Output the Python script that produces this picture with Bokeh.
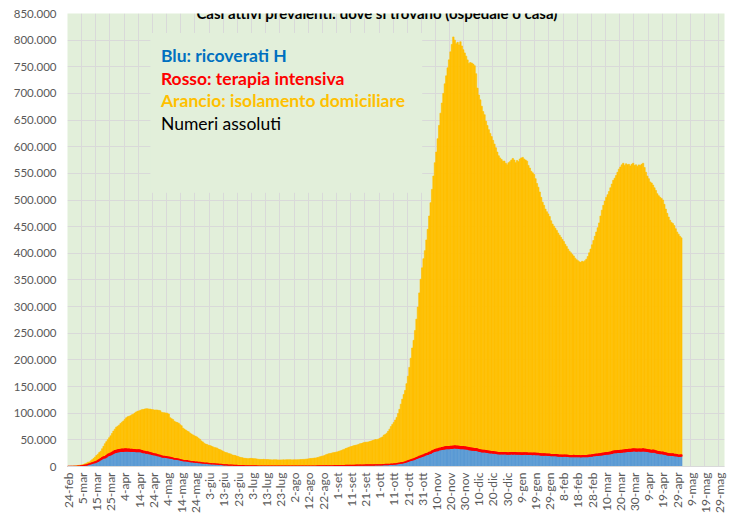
import math
from bokeh.plotting import figure
from bokeh.models import Range1d, FixedTicker, ColumnDataSource, Label, BoxAnnotation
from bokeh.transform import stack
from bokeh.embed import file_html
from bokeh.resources import INLINE

titolo = "Casi attivi prevalenti: dove si trovano (ospedale o casa)"

# giorni consecutivi dal 24-feb-2020 al 2-mag-2021
ricoverati = [
    54, 99, 114, 128, 248, 345,
    401, 639, 742, 1034, 1346, 1790, 2394, 2651, 3557, 4316, 5038, 5838, 6650, 7426, 8372, 9663, 11025, 12894, 14363, 15757, 16020, 17708, 19846, 20692, 21937, 23112, 24753, 26029, 26676, 27386, 27795,
    28192, 28403, 28540, 29010, 28949, 28976, 28718, 28485, 28399, 28242, 28144, 27847, 28023, 28011, 27643, 26893, 26029, 25786, 25033, 24906, 24134, 23805, 22871, 22068, 21533, 21372, 20353, 19723, 19210, 18149,
    17569, 17357, 17242, 16823, 16270, 15769, 15174, 14636, 13834, 13618, 13539, 12865, 12172, 11453, 10792, 10400, 10311, 10207, 9624, 8957, 8695, 8613, 8185, 7917, 7729, 7379, 7094, 6680, 6387, 6099, 5916,
    5742, 5322, 5301, 5002, 4864, 4729, 4581, 4320, 4078, 3893, 3747, 3301, 3092, 2957, 2868, 2652, 2474, 2383, 2314, 2237, 2154, 1948, 1762, 1655, 1520, 1500, 1385, 1360, 1273, 1074,
    1047, 1002, 948, 939, 934, 928, 907, 876, 851, 833, 828, 826, 815, 774, 762, 766, 747, 722, 707, 703, 686, 716, 728, 713, 711, 713, 715, 735, 728, 748, 746,
    752, 752, 756, 779, 781, 793, 823, 800, 841, 843, 842, 852, 867, 856, 879, 888, 904, 957, 995, 1014, 1045, 1059, 1089, 1118, 1178, 1227, 1259, 1310, 1334, 1380, 1380,
    1517, 1517, 1566, 1657, 1678, 1678, 1836, 1942, 1953, 2019, 2027, 2061, 2145, 2222, 2380, 2394, 2380, 2414, 2483, 2527, 2658, 2693, 2746, 2755, 2695, 2655, 2735, 2852, 2905, 2953,
    3029, 3018, 3211, 3413, 3475, 3487, 3625, 3782, 3925, 4086, 4336, 4519, 5076, 5470, 5796, 6178, 6484, 7131, 7676, 8454, 9694, 10549, 11287, 12006, 12997, 13955, 14981, 15964, 16994, 17966, 18902,
    19840, 21114, 22116, 22822, 23997, 24796, 26440, 27636, 28633, 29444, 29873, 30914, 31398, 32047, 32536, 33074, 33504, 33610, 33684, 33848, 34063, 34577, 34697, 34577, 34313, 33917, 33610, 33496, 33479, 33230,
    32811, 32454, 31772, 31200, 30894, 30484, 30081, 30158, 29653, 28727, 28201, 27611, 27342, 27345, 27065, 26496, 25954, 25634, 25427, 25202, 24995, 24508, 24037, 23662, 23424, 23463, 23522, 23662, 23712, 23151, 23151,
    23291, 23468, 23395, 23566, 23395, 23266, 23110, 23106, 22934, 22855, 23061, 23113, 22910, 22713, 22699, 22474, 22469, 22699, 22469, 22313, 22116, 21865, 21513, 21325, 21329, 21355, 21161, 20854, 20778, 20303, 20157,
    20308, 20198, 19950, 19624, 19390, 19236, 19121, 19391, 19348, 19106, 18909, 18607, 18336, 18360, 18615, 18501, 18349, 18257, 18295, 18077, 18264, 18463, 18292, 18446, 18676, 18942, 19287, 19570,
    20157, 20374, 20616, 20868, 21114, 21392, 21831, 22393, 22692, 23051, 23247, 23656, 24049, 24700, 25566, 25917, 26098, 26370, 26504, 26686, 26824, 27260, 27525, 27777, 28134, 28232, 28432, 28756, 29163, 29231, 28949,
    29001, 29117, 28979, 29032, 29337, 28965, 28704, 28146, 27679, 27243, 26952, 27107, 26701, 25815, 25236, 24707, 24193, 23963, 23804, 23151, 22474, 21812, 21279, 21136, 20818, 20975, 20312, 20102, 19661, 19077,
    18925, 19214,
]

terapia_intensiva = [
    26, 23, 35, 36, 56, 64,
    105, 140, 166, 229, 295, 351, 462, 567, 650, 733, 877, 1028, 1153, 1328, 1518, 1672, 1851, 2060, 2257, 2498, 2655, 2857, 3009, 3204, 3396, 3489, 3612, 3732, 3856, 3906, 3981,
    4023, 4035, 4053, 3994, 3977, 3898, 3792, 3693, 3605, 3497, 3381, 3343, 3260, 3186, 3079, 2936, 2812, 2733, 2635, 2573, 2471, 2384, 2267, 2173, 2102, 2009, 1956, 1863, 1795, 1694,
    1578, 1539, 1501, 1479, 1427, 1333, 1311, 1168, 1034, 1027, 999, 952, 893, 855, 808, 775, 762, 749, 716, 676, 640, 595, 572, 553, 541, 521, 505, 489, 475, 450, 435,
    424, 408, 353, 338, 316, 293, 287, 283, 263, 249, 236, 220, 209, 207, 209, 207, 168, 161, 152, 148, 149, 127, 115, 107, 103, 95, 77, 72, 71, 87,
    82, 79, 72, 71, 71, 69, 67, 67, 65, 65, 64, 62, 60, 59, 58, 58, 54, 49, 48, 49, 48, 47, 49, 48, 41, 41, 40, 38, 39, 41, 42,
    41, 41, 42, 42, 40, 40, 43, 45, 42, 42, 49, 55, 56, 58, 58, 58, 58, 62, 63, 66, 68, 69, 69, 64, 65, 69, 74, 79, 86, 94, 109,
    107, 120, 121, 133, 142, 150, 164, 164, 174, 182, 187, 197, 201, 207, 208, 215, 220, 239, 236, 244, 251, 239, 243, 246, 254, 262, 271, 280, 291, 294,
    297, 303, 319, 323, 337, 358, 387, 390, 420, 452, 514, 539, 586, 638, 705, 750, 797, 870, 926, 992, 1049, 1128, 1208, 1284, 1411, 1536, 1651, 1746, 1843, 1939, 2022,
    2115, 2225, 2292, 2391, 2515, 2634, 2749, 2849, 2971, 3081, 3170, 3230, 3306, 3422, 3492, 3612, 3670, 3712, 3748, 3758, 3801, 3810, 3816, 3846, 3848, 3816, 3782, 3753, 3762, 3744,
    3663, 3616, 3597, 3567, 3517, 3454, 3345, 3320, 3265, 3199, 3158, 3095, 3045, 3003, 2983, 2855, 2819, 2784, 2748, 2705, 2687, 2624, 2582, 2579, 2589, 2580, 2565, 2549, 2565, 2555, 2555,
    2569, 2583, 2579, 2579, 2587, 2569, 2587, 2587, 2579, 2636, 2643, 2639, 2587, 2561, 2557, 2522, 2487, 2475, 2461, 2423, 2418, 2380, 2390, 2391, 2372, 2331, 2338, 2315, 2270, 2242, 2214,
    2252, 2143, 2146, 2126, 2117, 2083, 2079, 2111, 2098, 2087, 2074, 2043, 2030, 2066, 2074, 2059, 2061, 2062, 2087, 2071, 2094, 2146, 2148, 2168, 2194, 2216, 2231, 2289,
    2351, 2411, 2475, 2571, 2605, 2700, 2756, 2827, 2859, 2914, 2971, 3081, 3157, 3256, 3317, 3364, 3384, 3448, 3470, 3490, 3567, 3625, 3679, 3707, 3716, 3723, 3710, 3716, 3733, 3737, 3681,
    3721, 3734, 3730, 3743, 3737, 3743, 3683, 3663, 3589, 3588, 3526, 3526, 3425, 3366, 3340, 3310, 3244, 3151, 3087, 3010, 2979, 2914, 2853, 2748, 2745, 2744, 2693, 2628, 2583, 2524,
    2490, 2423,
]

isolamento_domiciliare = [
    141, 189, 236, 424, 517, 640,
    1071, 1056, 1355, 1443, 1655, 1775, 2205, 3169, 3778, 3465, 4675, 5973, 7152, 8996, 10713, 11738, 13186, 13756, 16570, 19605, 24006, 26073, 27563, 30134, 32188, 35412, 38049, 40304, 43348, 44236, 45859,
    48357, 50611, 52795, 55270, 58320, 60313, 61557, 63084, 64873, 66534, 68744, 71063, 72333, 73094, 74696, 76778, 78121, 79252, 80589, 80758, 81104, 81510, 81710, 82286, 82212, 82722, 83504, 83619, 83652, 81708,
    81796, 81808, 81436, 81678, 80770, 74426, 73139, 72157, 69974, 68679, 67950, 67449, 65392, 64132, 60470, 59012, 57278, 55597, 54789, 53119, 51625, 50114, 48995, 48124, 47030, 45042, 43367, 40817, 39313, 37142, 35724,
    35201, 34163, 33643, 33089, 31796, 30855, 30394, 30127, 28531, 27568, 26654, 25701, 24184, 23110, 22832, 21710, 21283, 20557, 19077, 18587, 18334, 17498, 16778, 15876, 15058, 14901, 14101, 13823, 13716, 13460,
    13755, 14174, 14040, 13632, 13616, 13245, 12621, 12360, 12263, 12259, 12536, 12031, 12067, 12232, 11761, 11670, 11603, 11685, 11810, 11688, 11634, 11485, 11524, 11643, 11704, 11668, 11810, 11808, 11849, 11918, 11634,
    11663, 11681, 11684, 11795, 11825, 12091, 12236, 12418, 12485, 12906, 13190, 13499, 13944, 14175, 14423, 14957, 15052, 15660, 16347, 17358, 18082, 18586, 19595, 20750, 21792, 22524, 22872, 23539, 24332, 24604, 25265,
    25800, 26700, 27500, 28300, 29400, 30300, 31800, 32500, 33600, 34600, 35300, 36200, 36900, 37300, 37900, 38800, 39900, 40500, 41400, 42300, 42600, 42600, 43100, 43800, 44800, 45700, 46600, 47500, 47100, 48100,
    49300, 50700, 52000, 55200, 56300, 58700, 61900, 65900, 70500, 74500, 77900, 82100, 86500, 93200, 100800, 110000, 119000, 127200, 134100, 146000, 158600, 174300, 190700, 209000, 222300, 239600, 259800, 281500, 306900, 331500, 351800,
    368000, 381700, 400600, 419800, 443500, 467600, 490800, 514500, 538400, 557500, 582000, 605900, 628300, 646500, 664000, 681300, 695800, 710700, 725600, 740400, 754100, 767600, 761500, 754600, 757800, 753300, 759600, 751800, 744800, 739000,
    733500, 726900, 720600, 723200, 722600, 721100, 718600, 703500, 677100, 665100, 656600, 645300, 635600, 629700, 618000, 610600, 603200, 596600, 590800, 584100, 577300, 570900, 563400, 556800, 553000, 550000, 546900, 546800, 542700, 540300, 544300,
    546100, 548900, 552000, 548900, 544000, 548200, 546300, 551300, 553500, 554500, 551300, 549200, 547500, 539700, 534700, 529000, 526000, 522800, 515100, 506300, 499500, 490800, 481100, 472300, 466300, 459300, 454500, 450800, 446000, 438500, 432600,
    428400, 424700, 420900, 416300, 412500, 408700, 404800, 400500, 395600, 391800, 387000, 383400, 380600, 377600, 374300, 370400, 367600, 365700, 363600, 362900, 364600, 363400, 365600, 368400, 373100, 379800, 386500, 394100,
    401500, 409200, 416900, 424600, 433300, 445900, 456400, 464800, 472400, 479000, 483800, 489300, 495800, 502000, 508100, 511700, 516500, 522200, 528000, 531800, 535600, 538100, 533800, 536500, 534200, 535000, 531900, 534500, 536100, 532000, 533400,
    530300, 533100, 532300, 534200, 535900, 528300, 519600, 513200, 508700, 503200, 501500, 497400, 492900, 488800, 483400, 480000, 477600, 475900, 473100, 465800, 457500, 450300, 443900, 438100, 434400, 432300, 429000, 423300, 417800, 414400,
    410600, 407400,
]

etichette_x = [
    "24-feb", "5-mar", "15-mar", "25-mar", "4-apr", "14-apr", "24-apr", "4-mag", "14-mag", "24-mag",
    "3-giu", "13-giu", "23-giu", "3-lug", "13-lug", "23-lug", "2-ago", "12-ago", "22-ago", "1-set",
    "11-set", "21-set", "1-ott", "11-ott", "21-ott", "31-ott", "10-nov", "20-nov", "30-nov", "10-dic",
    "20-dic", "30-dic", "9-gen", "19-gen", "29-gen", "8-feb", "18-feb", "28-feb", "10-mar", "20-mar",
    "30-mar", "9-apr", "19-apr", "29-apr", "9-mag", "19-mag", "29-mag",
]
passo_etichette = 10
n_categorie = 464
y_ticks = list(range(0, 850001, 50000))

legenda = [
    ("Blu: ricoverati H", "#0070C0", "bold"),
    ("Rosso: terapia intensiva", "#FF0000", "bold"),
    ("Arancio: isolamento domiciliare", "#FFC000", "bold"),
    ("Numeri assoluti", "#000000", "normal"),
]

BLU = "#5B9BD5"
ROSSO = "#FF0000"
ARANCIO = "#FFC000"
SFONDO = "#E2EFDA"
GRIGLIA = "#D9D9D9"
TESTO = "#595959"
FONT = "Lato"

n = min(len(ricoverati), len(terapia_intensiva), len(isolamento_domiciliare))
src = ColumnDataSource(dict(
    x=list(range(n)),
    ric=ricoverati[:n],
    ti=terapia_intensiva[:n],
    iso=isolamento_domiciliare[:n],
))

p = figure(
    width=739, height=517,
    output_backend="svg", toolbar_location=None,
    x_range=Range1d(-0.5, n_categorie - 0.5),
    y_range=Range1d(0, 850000),
    min_border_left=67, min_border_right=15, min_border_top=13, min_border_bottom=51,
    background_fill_color=SFONDO, border_fill_color="white",
    outline_line_color=None,
)

# bars
p.vbar(x="x", width=1, bottom=0, top="ric", source=src,
       fill_color=BLU, line_color=BLU, line_width=0.6)
p.vbar(x="x", width=1, bottom=stack("ric", "ti"), top=stack("ric", "ti", "iso"), source=src,
       fill_color=ARANCIO, line_color=ARANCIO, line_width=0.6)
p.vbar(x="x", width=1, bottom=stack("ric"), top=stack("ric", "ti"), source=src,
       fill_color=ROSSO, line_color=ROSSO, line_width=1.2)

# axes
tick_pos = [i * passo_etichette for i in range(len(etichette_x))]
p.xaxis.ticker = FixedTicker(ticks=tick_pos)
p.xaxis.major_label_overrides = {t: lab for t, lab in zip(tick_pos, etichette_x)}
p.xaxis.major_label_orientation = math.pi / 2
p.xaxis.major_tick_line_color = None
p.xaxis.minor_tick_line_color = None
p.xaxis.major_tick_out = 0
p.xaxis.major_tick_in = 0
p.xaxis.axis_line_color = GRIGLIA
p.xaxis.major_label_text_color = TESTO
p.xaxis.major_label_text_font = FONT
p.xaxis.major_label_text_font_size = "12px"
p.xaxis.major_label_standoff = 6

p.yaxis.ticker = FixedTicker(ticks=y_ticks)
p.yaxis.major_label_overrides = {v: f"{v:,}".replace(",", ".") for v in y_ticks}
p.yaxis.axis_line_color = None
p.yaxis.major_tick_line_color = None
p.yaxis.minor_tick_line_color = None
p.yaxis.major_tick_out = 0
p.yaxis.major_tick_in = 0
p.yaxis.major_label_text_color = TESTO
p.yaxis.major_label_text_font = FONT
p.yaxis.major_label_text_font_size = "11.5px"
p.yaxis.major_label_standoff = 11

p.xgrid.ticker = FixedTicker(ticks=[t - 0.5 for t in tick_pos])
p.xgrid.grid_line_color = GRIGLIA
p.ygrid.ticker = FixedTicker(ticks=y_ticks)
p.ygrid.grid_line_color = GRIGLIA

# legend text box (covers the grid)
p.add_layout(BoxAnnotation(left=58, right=250, bottom=513500, top=813500,
                           fill_color=SFONDO, fill_alpha=1.0, line_color=None))
y_leg = [770300, 728500, 686000, 643500]
for (txt, col, style), yy in zip(legenda, y_leg):
    p.add_layout(Label(x=65.5, y=yy, text=txt, text_color=col, text_font=FONT,
                       text_font_style=style, text_font_size="17.5px",
                       text_baseline="alphabetic", text_align="left"))

# title, just above the plot area
p.add_layout(Label(x=218, y=851000, text=titolo, text_color="#000000", text_font=FONT,
                   text_font_style="bold", text_font_size="15px",
                   text_baseline="alphabetic", text_align="center"))

open("out.html", "w").write(file_html(p, INLINE, title=titolo))
